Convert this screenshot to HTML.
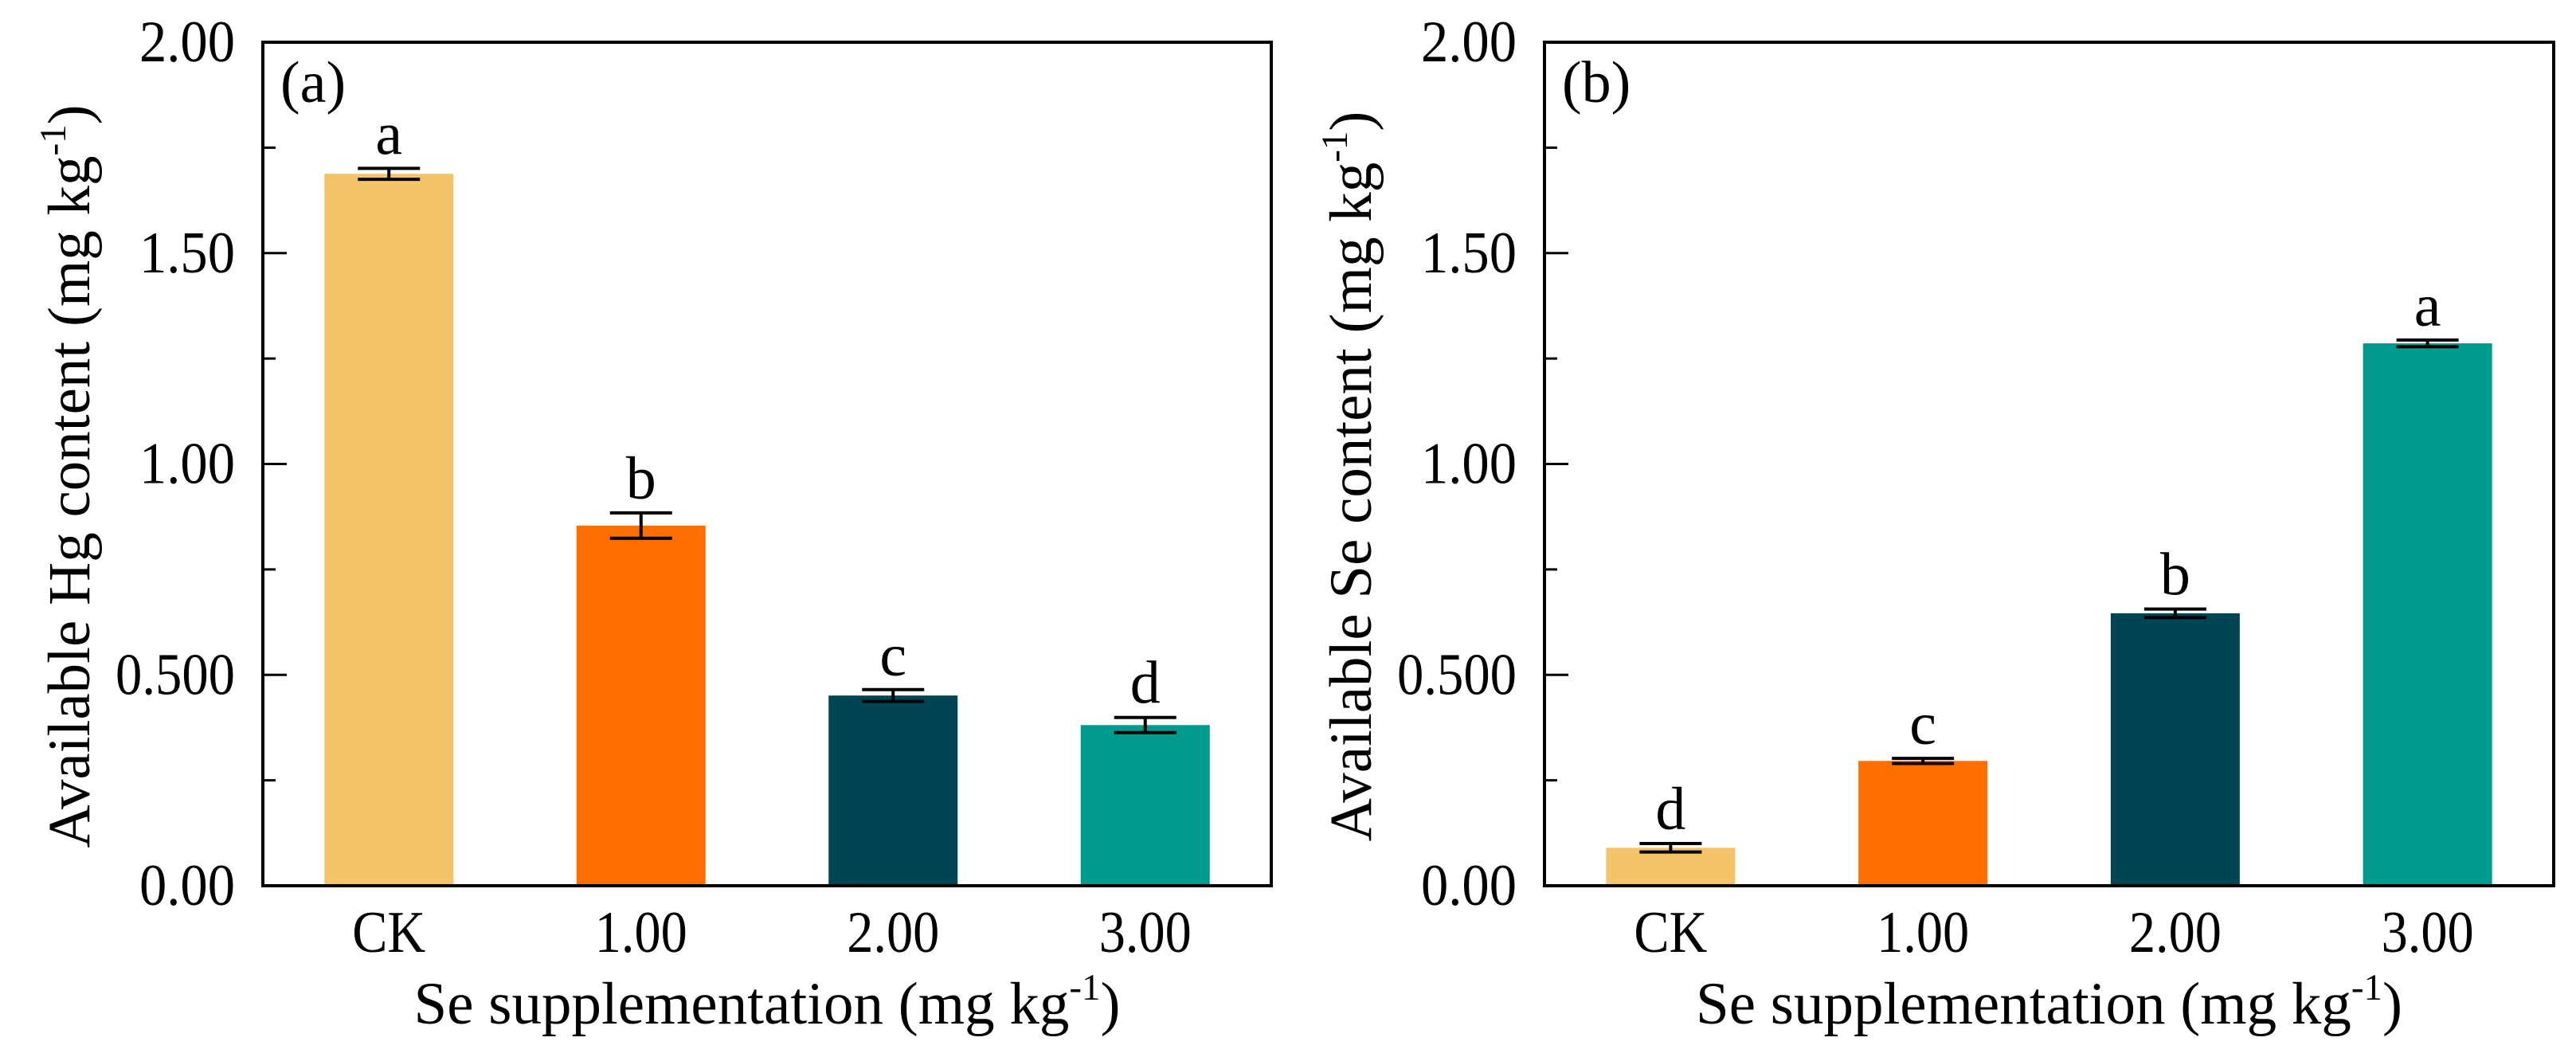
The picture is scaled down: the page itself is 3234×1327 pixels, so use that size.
<!DOCTYPE html>
<html><head><meta charset="utf-8"><style>
html,body{margin:0;padding:0;background:#fff;}
svg{display:block;font-family:"Liberation Serif","DejaVu Serif",serif;}
</style></head><body>
<svg id="chart" width="3234" height="1327" viewBox="0 0 3234 1327" xmlns="http://www.w3.org/2000/svg"></svg>
<script>
const categories = ["CK", "1.00", "2.00", "3.00"];
const hgValues = [1.688, 0.854, 0.451, 0.381];
const hgErrors = [0.013, 0.03, 0.014, 0.018];
const hgLetters = ["a", "b", "c", "d"];
const seValues = [0.090, 0.296, 0.646, 1.286];
const seErrors = [0.01, 0.006, 0.01, 0.008];
const seLetters = ["d", "c", "b", "a"];
const yTicks = [0, 0.5, 1.0, 1.5, 2.0];
const yTickLabels = ["0.00", "0.500", "1.00", "1.50", "2.00"];
const yMinorTicks = [0.25, 0.75, 1.25, 1.75];
const barColors = ["#F4C46A", "#FF6F00", "#004554", "#009B8C"];

const NS = "http://www.w3.org/2000/svg";
const svg = document.getElementById("chart");
function mk(tag, attrs, parent) {
  const e = document.createElementNS(NS, tag);
  for (const k in attrs) e.setAttribute(k, attrs[k]);
  (parent || svg).appendChild(e);
  return e;
}

function panel(opts) {
  const L = opts.left, R = opts.right, T = 53, B = 1112;
  const yMax = 2.0;
  const y = v => B - (v / yMax) * (B - T);
  const step = (R - L) / categories.length;
  const xc = i => L + step * (i + 0.5);
  const bw = 162;
  const FS = 74;
  const g = mk("g", {});
  
  

  opts.values.forEach((v, i) => {
    const r = mk("rect", {x: xc(i) - bw / 2, y: y(v), width: bw, height: B - y(v), fill: barColors[i]}, g);
    
    
    const e = opts.errors[i];
    const eg = mk("g", {stroke: "#000", "stroke-width": 4}, g);
    
    
    mk("line", {x1: xc(i), x2: xc(i), y1: y(v + e), y2: y(v - e)}, eg);
    mk("line", {x1: xc(i) - 39, x2: xc(i) + 39, y1: y(v + e), y2: y(v + e)}, eg);
    mk("line", {x1: xc(i) - 39, x2: xc(i) + 39, y1: y(v - e), y2: y(v - e)}, eg);
    const t = mk("text", {x: xc(i), y: y(v + e) - 18, "font-size": 76, "text-anchor": "middle", fill: "#000"}, g);
    t.textContent = opts.letters[i];
    
    
  });

  const f = mk("rect", {x: L, y: T, width: R - L, height: B - T, fill: "none", stroke: "#000", "stroke-width": 4}, g);
  
  

  yTicks.forEach((v, i) => {
    mk("line", {x1: L, x2: L + 30, y1: y(v), y2: y(v), stroke: "#000", "stroke-width": 3}, g);
    const lab = yTickLabels[i];
    const t = mk("text", {x: L - 35, y: y(v) + 24, "font-size": FS, "text-anchor": "end", fill: "#000",
      textLength: lab.length * 30, lengthAdjust: "spacingAndGlyphs"}, g);
    t.textContent = lab;
    
    
  });
  yMinorTicks.forEach(v => {
    mk("line", {x1: L, x2: L + 16, y1: y(v), y2: y(v), stroke: "#000", "stroke-width": 3}, g);
  });
  categories.forEach((c, i) => {
    const t = mk("text", {x: xc(i), y: 1195, "font-size": FS, "text-anchor": "middle", fill: "#000",
      textLength: c === "CK" ? 92 : 116, lengthAdjust: "spacingAndGlyphs"}, g);
    t.textContent = c;
    
    
  });

  const pl = mk("text", {x: L + 22, y: 128, "font-size": FS, fill: "#000"}, g);
  pl.textContent = opts.tag;
  
  

  const xt = mk("text", {x: (L + R) / 2, y: 1285, "font-size": 75, "text-anchor": "middle", fill: "#000"}, g);
  xt.innerHTML = 'Se supplementation (mg kg<tspan dy="-30" font-size="47">-1</tspan><tspan dy="30">)</tspan>';
  
  

  const yt = mk("text", {x: 0, y: 0, "font-size": 75, "text-anchor": "middle", fill: "#000",
    transform: "translate(" + (L - 218) + "," + 598 + ") rotate(-90)"}, g);
  yt.innerHTML = opts.ytitle + ' (mg kg<tspan dy="-30" font-size="47">-1</tspan><tspan dy="30">)</tspan>';
  
  
}

panel({name: "panel-a-hg", left: 330, right: 1596, values: hgValues, errors: hgErrors, letters: hgLetters, tag: "(a)", ytitle: "Available Hg content"});
panel({name: "panel-b-se", left: 1939, right: 3206, values: seValues, errors: seErrors, letters: seLetters, tag: "(b)", ytitle: "Available Se content"});
</script>
</body></html>
